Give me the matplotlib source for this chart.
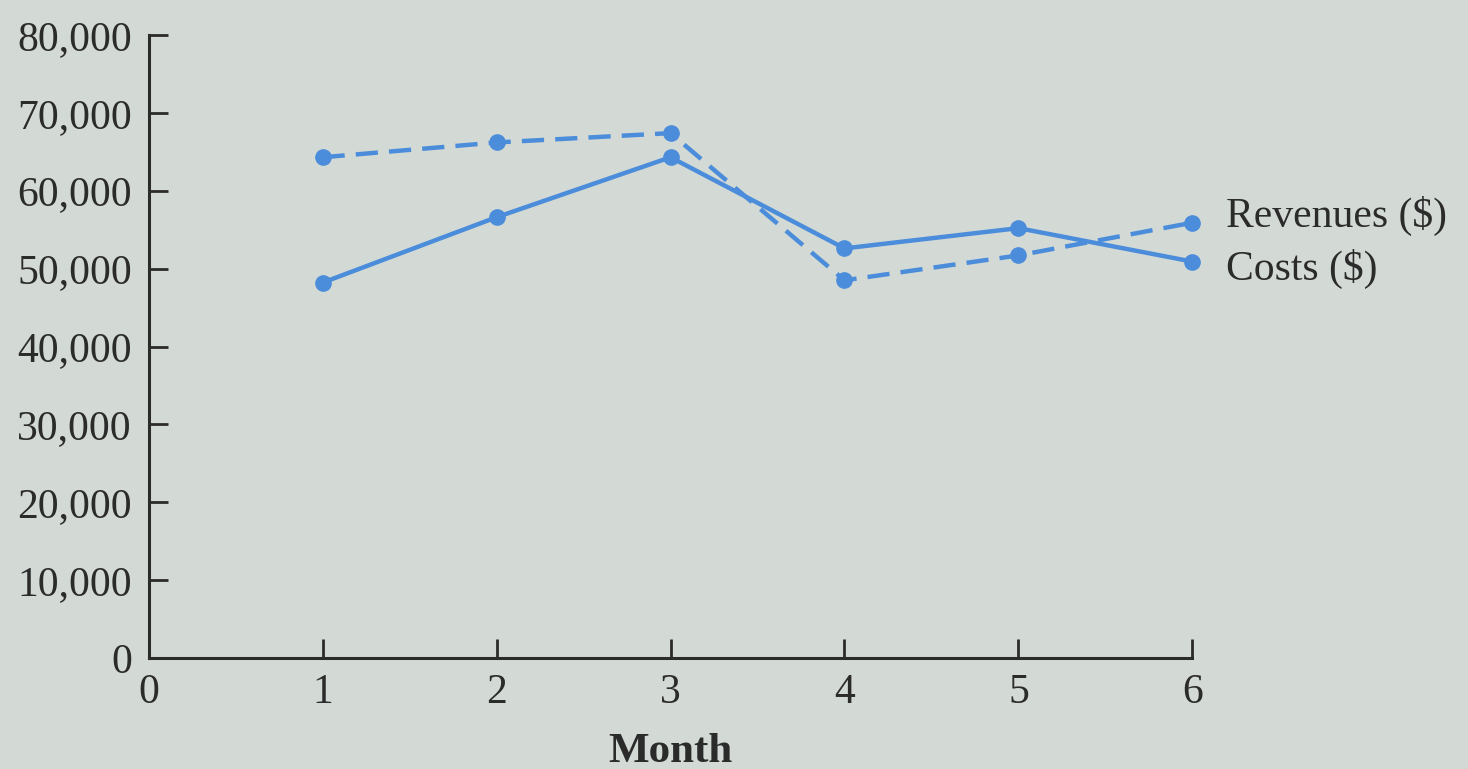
import matplotlib.pyplot as plt
from matplotlib.ticker import FuncFormatter

months = [1, 2, 3, 4, 5, 6]
revenues = [64300, 66200, 67400, 48500, 51700, 55900]
costs = [48200, 56600, 64300, 52600, 55200, 50900]
yticks = [0, 10000, 20000, 30000, 40000, 50000, 60000, 70000, 80000]
xticks = [0, 1, 2, 3, 4, 5, 6]

bg = '#d3dad5'
blue = '#4b8ddb'
ink = '#2b2b2b'

plt.rcParams['font.family'] = ['Liberation Serif', 'DejaVu Serif']

fig = plt.figure(figsize=(14.68, 7.69), dpi=100, facecolor=bg)
ax = fig.add_axes([0.1012, 0.1443, 0.7111, 0.8102], facecolor=bg)

ax.plot(months, revenues, color=blue, lw=3.2, ls=(0, (5, 2.5)), marker='o', ms=11,
        clip_on=False)
ax.plot(months, costs, color=blue, lw=3.2, ls='-', marker='o', ms=11, clip_on=False)

ax.annotate('Revenues ($)', xy=(months[-1], revenues[-1]), xytext=(24, 5),
            textcoords='offset points', va='center', ha='left', fontsize=30, color=ink)
ax.annotate('Costs ($)', xy=(months[-1], costs[-1]), xytext=(24, -5),
            textcoords='offset points', va='center', ha='left', fontsize=30, color=ink)

ax.set_xlim(0, 6)
ax.set_ylim(0, 80000)
ax.set_xticks(xticks)
ax.set_yticks(yticks)
ax.yaxis.set_major_formatter(FuncFormatter(lambda v, p: f'{int(v):,}'))

for s in ['top', 'right']:
    ax.spines[s].set_visible(False)
for s in ['left', 'bottom']:
    ax.spines[s].set_linewidth(2.2)
    ax.spines[s].set_color(ink)

ax.tick_params(axis='both', direction='in', length=14, width=2, color=ink,
               labelsize=30, labelcolor=ink)
ax.tick_params(axis='y', pad=12)
ax.tick_params(axis='x', pad=11)

ax.set_xlabel('Month', fontsize=31, fontweight='bold', color=ink, labelpad=15)

fig.savefig('out.png', dpi=100, facecolor=bg)
